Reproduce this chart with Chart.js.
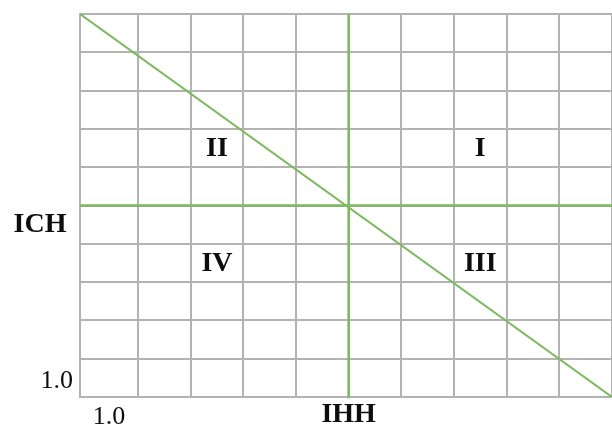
<!DOCTYPE html>
<html><head><meta charset="utf-8">
<script src="https://cdn.jsdelivr.net/npm/chart.js@4/dist/chart.umd.min.js"></script>
<style>html,body{margin:0;padding:0;background:#fff;}#wrap{width:612px;height:431px;position:relative}</style>
</head><body><div id="wrap"><canvas id="c" width="612" height="431"></canvas></div>
<script>
// ---- data ----
const xRange = [-0.1, 10];
const yRange = [0, 10];
const xGridTicks = [1, 2, 3, 4, 5, 6, 7, 8, 9, 10];
const yGridTicks = [0, 1, 2, 3, 4, 5, 6, 7, 8, 9, 10];
const diagonalX = [-0.1, 10];
const diagonalY = [10, 0];
const horizontalX = [-0.1, 10];
const horizontalY = [5, 5];
const verticalX = [5, 5];
const verticalY = [10, -0.03];
const quadrantNames = ['I', 'II', 'III', 'IV'];
const quadrantX = [7.5, 2.5, 7.5, 2.5];
const quadrantY = [6.5, 6.5, 3.5, 3.5];
const xTickLabels = ['1.0'];
const xTickValues = [0.45];
const yTickLabels = ['1.0'];
const yTickValues = [0.5];
const xTitle = 'IHH';
const yTitle = 'ICH';

const toPts = (xs, ys) => xs.map((x, i) => ({x: x, y: ys[i]}));
const GREEN = '#7db95f';
const GRID = '#b3b3b3';
const TEXT = '#0d0d0d';

const labelPlugin = {
  id: 'labels',
  afterDatasetsDraw(chart) {
    const ctx = chart.ctx, xs = chart.scales.x, ys = chart.scales.y, ca = chart.chartArea;
    ctx.save();
    ctx.fillStyle = TEXT;
    ctx.textBaseline = 'middle';
    ctx.textAlign = 'center';
    ctx.font = 'bold 28px "Liberation Serif", "Times New Roman", serif';
    quadrantNames.forEach((n, i) => {
      ctx.fillText(n, xs.getPixelForValue(quadrantX[i]), ys.getPixelForValue(quadrantY[i]) + 1);
    });
    ctx.fillText(xTitle, xs.getPixelForValue(5), ca.bottom + 18);
    ctx.fillText(yTitle, ca.left / 2, ys.getPixelForValue(4.5));
    ctx.font = '26px "Liberation Serif", "Times New Roman", serif';
    xTickLabels.forEach((t, i) => ctx.fillText(t, xs.getPixelForValue(xTickValues[i]), ca.bottom + 20));
    ctx.textAlign = 'right';
    yTickLabels.forEach((t, i) => ctx.fillText(t, ca.left - 7, ys.getPixelForValue(yTickValues[i]) + 3));
    ctx.restore();
  }
};

new Chart(document.getElementById('c'), {
  type: 'scatter',
  data: {
    datasets: [
      {data: toPts(horizontalX, horizontalY), showLine: true, borderColor: GREEN, borderWidth: 2.5, pointRadius: 0},
      {data: toPts(verticalX, verticalY), showLine: true, borderColor: GREEN, borderWidth: 2.5, pointRadius: 0, clip: false},
      {data: toPts(diagonalX, diagonalY), showLine: true, borderColor: GREEN, borderWidth: 2, pointRadius: 0}
    ]
  },
  options: {
    responsive: false,
    animation: false,
    devicePixelRatio: 1,
    layout: {padding: {left: 80, top: 14, right: 0, bottom: 34}},
    plugins: {legend: {display: false}, tooltip: {enabled: false}},
    scales: {
      x: {
        type: 'linear', min: xRange[0], max: xRange[1],
        afterBuildTicks: s => { s.ticks = xGridTicks.map(v => ({value: v})); },
        ticks: {display: false},
        grid: {color: GRID, lineWidth: 2, drawTicks: false},
        border: {display: true, color: GRID, width: 2}
      },
      y: {
        type: 'linear', min: yRange[0], max: yRange[1],
        afterBuildTicks: s => { s.ticks = yGridTicks.map(v => ({value: v})); },
        ticks: {display: false},
        grid: {color: GRID, lineWidth: 2, drawTicks: false},
        border: {display: true, color: GRID, width: 2}
      }
    }
  },
  plugins: [labelPlugin]
});
</script></body></html>
